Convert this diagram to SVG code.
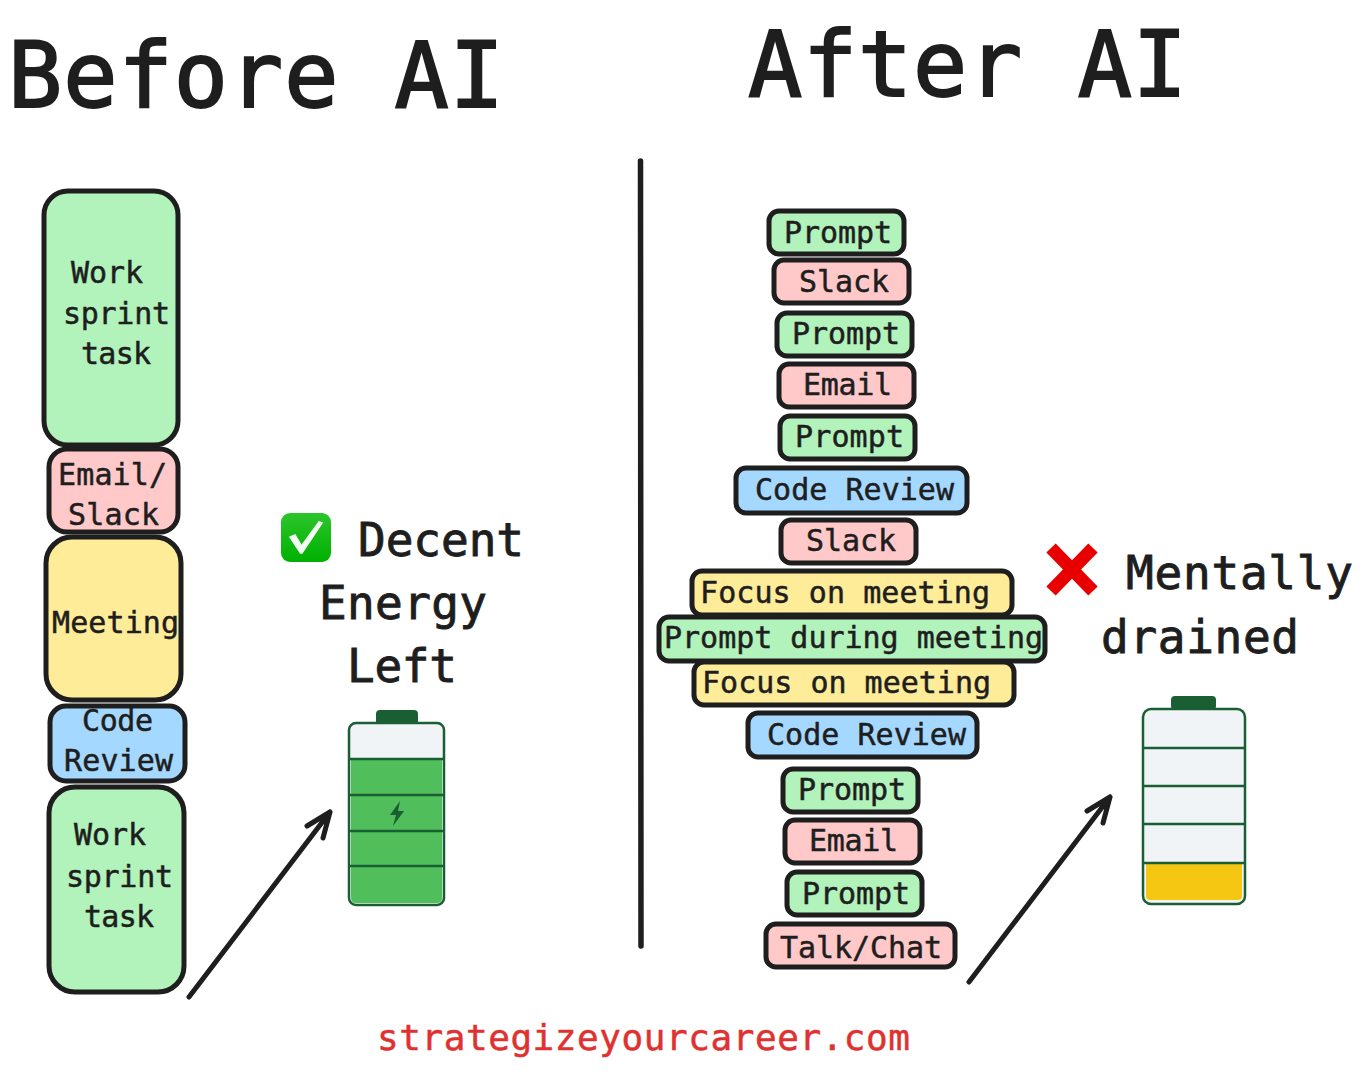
<svg xmlns="http://www.w3.org/2000/svg" width="1362" height="1073" viewBox="0 0 1362 1073">
<style>
text{font-family:"DejaVu Sans Mono","Liberation Mono",monospace;fill:#1e1e1e;stroke:#1e1e1e;stroke-width:.5px;font-size:30px}
.b{stroke:#1e1e1e;stroke-width:5}
.g{fill:#b2f2bb}.r{fill:#ffc9c9}.y{fill:#ffec99}.c{fill:#a5d8ff}
.h{font-size:90px;stroke-width:2px}.m{font-size:46px;stroke-width:.9px}
.s{fill:none;stroke:#1a5e34;stroke-width:2.5}
.a{fill:none;stroke:#1e1e1e;stroke-width:5;stroke-linecap:round;stroke-linejoin:round}
</style>
<defs><linearGradient id="cg" x1="0" y1="0" x2="0" y2="1"><stop offset="0" stop-color="#2cc52c"/><stop offset="1" stop-color="#00b000"/></linearGradient></defs>
<rect width="1362" height="1073" fill="#fff"/>
<g id="titles">
<text class="h" x="8" y="107" textLength="496">Before AI</text>
<text class="h" x="748" y="96" textLength="439">After AI</text>
<text x="377" y="1050" textLength="533" style="font-size:36px;fill:#e03131;stroke:#e03131">strategizeyourcareer.com</text>
</g>
<g id="connectors">
<path class="a" d="M640.500 161L641 946" style="stroke-width:5.500"/>
<path class="a" d="M189 997L330 812M307 826L330 812L323 838"/>
<path class="a" d="M969 982L1110 797M1087 811L1110 797L1103 823"/>
</g>
<g id="before-work-1"><rect class="b g" x="44" y="191" width="134" height="254" rx="24"/><text x="71" y="283" textLength="72">Work</text><text x="63" y="324" textLength="107">sprint</text><text x="81" y="364" textLength="70">task</text></g>
<g id="before-email"><rect class="b r" x="49" y="449" width="129" height="83" rx="18"/><text x="58" y="485" textLength="109">Email/</text><text x="68" y="525" textLength="91">Slack</text></g>
<g id="before-meeting"><rect class="b y" x="46" y="537" width="135" height="163" rx="26"/><text x="52" y="633" textLength="127">Meeting</text></g>
<g id="before-code"><rect class="b c" x="50" y="706" width="135" height="75" rx="16"/><text x="82" y="731" textLength="71">Code</text><text x="64" y="771" textLength="109">Review</text></g>
<g id="before-work-2"><rect class="b g" x="49" y="787" width="135" height="205" rx="26"/><text x="74" y="845" textLength="72">Work</text><text x="66" y="887" textLength="107">sprint</text><text x="84" y="927" textLength="70">task</text></g>
<g id="after-1"><rect class="b g" x="769" y="211" width="135" height="43" rx="10"/><text x="784" y="243" textLength="108">Prompt</text></g>
<g id="after-2"><rect class="b r" x="774" y="260" width="135" height="43" rx="10"/><text x="799" y="292" textLength="90">Slack</text></g>
<g id="after-3"><rect class="b g" x="777" y="313" width="135" height="43" rx="10"/><text x="792" y="344" textLength="108">Prompt</text></g>
<g id="after-4"><rect class="b r" x="779" y="364" width="135" height="43" rx="10"/><text x="803" y="395" textLength="89">Email</text></g>
<g id="after-5"><rect class="b g" x="780" y="416" width="135" height="43" rx="10"/><text x="795" y="447" textLength="109">Prompt</text></g>
<g id="after-6"><rect class="b c" x="736" y="468" width="231" height="45" rx="10"/><text x="755" y="500" textLength="199">Code Review</text></g>
<g id="after-7"><rect class="b r" x="781" y="520" width="135" height="43" rx="10"/><text x="806" y="551" textLength="90">Slack</text></g>
<g id="after-8"><rect class="b y" x="692" y="571" width="320" height="44" rx="10"/><text x="700" y="603" textLength="290">Focus on meeting</text></g>
<g id="after-9"><rect class="b g" x="659" y="617" width="386" height="44" rx="10"/><text x="664" y="648" textLength="379">Prompt during meeting</text></g>
<g id="after-10"><rect class="b y" x="694" y="662" width="320" height="43" rx="10"/><text x="702" y="693" textLength="289">Focus on meeting</text></g>
<g id="after-11"><rect class="b c" x="748" y="713" width="229" height="44" rx="10"/><text x="767" y="745" textLength="199">Code Review</text></g>
<g id="after-12"><rect class="b g" x="783" y="769" width="135" height="43" rx="10"/><text x="798" y="800" textLength="108">Prompt</text></g>
<g id="after-13"><rect class="b r" x="785" y="820" width="135" height="43" rx="10"/><text x="809" y="851" textLength="89">Email</text></g>
<g id="after-14"><rect class="b g" x="787" y="872" width="135" height="43" rx="10"/><text x="802" y="904" textLength="108">Prompt</text></g>
<g id="after-15"><rect class="b r" x="766" y="924" width="189" height="43" rx="10"/><text x="780" y="958" textLength="162">Talk/Chat</text></g>
<g id="decent-label">
<rect x="281" y="513" width="50" height="49" rx="9" fill="url(#cg)"/>
<path d="M290 537L300.500 553L302 553L322 523L319 522L301.500 546L295 535Z" fill="#f4fff4" stroke="#f4fff4" stroke-width="1.500"/>
<text class="m" x="358" y="556" textLength="166">Decent</text>
<text class="m" x="319" y="619" textLength="168">Energy</text>
<text class="m" x="347" y="682" textLength="110">Left</text>
</g>
<g id="battery-full">
<rect x="376" y="710" width="42" height="15" rx="4" fill="#1a5e34"/>
<rect x="349" y="723" width="95" height="182" rx="7" fill="#f0f4f7"/>
<path d="M351 759H442V898Q442 903 437 903H356Q351 903 351 898Z" fill="#4fbe5b"/>
<rect class="s" x="349" y="723" width="95" height="182" rx="7"/>
<path class="s" d="M349 759H444M349 795H444M349 831H444M349 866H444"/>
<path d="M400 801L390 815H396L393 826L404 811H398Z" fill="#1a5e34"/>
</g>
<g id="drained-label">
<path d="M1051 548L1093 591M1093 548L1051 591" fill="none" stroke="#e80000" stroke-width="13"/>
<text class="m" x="1126" y="589" textLength="227">Mentally</text>
<text class="m" x="1101" y="653" textLength="198">drained</text>
</g>
<g id="battery-low">
<rect x="1171" y="696" width="45" height="14" rx="4" fill="#1a5e34"/>
<rect x="1143" y="709" width="102" height="195" rx="8" fill="#f0f4f7"/>
<path d="M1146 863H1242V896Q1242 900 1238 900H1150Q1146 900 1146 896Z" fill="#f6c712"/>
<rect class="s" x="1143" y="709" width="102" height="195" rx="8"/>
<path class="s" d="M1143 748H1245M1143 786H1245M1143 824H1245M1143 863H1245"/>
</g>
</svg>
